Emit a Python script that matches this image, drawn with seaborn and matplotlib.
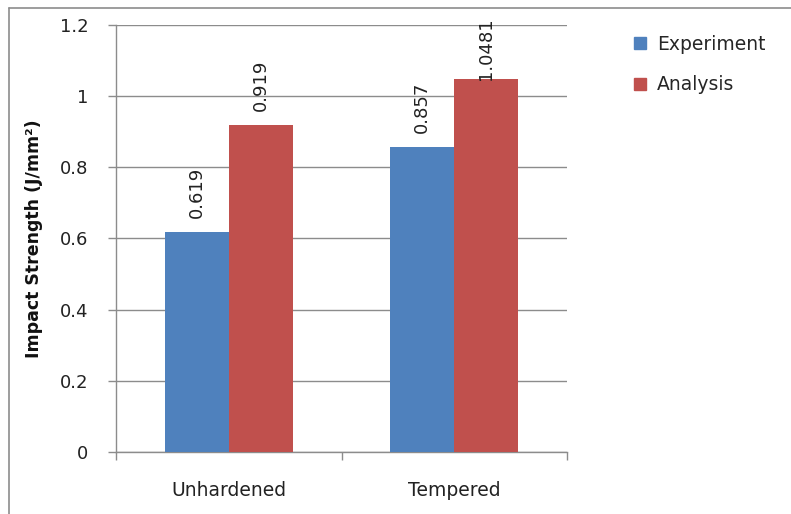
import matplotlib
matplotlib.use("Agg")
import matplotlib.pyplot as plt
import seaborn as sns
import pandas as pd
from matplotlib.lines import Line2D

categories = ["Unhardened", "Tempered"]
series = ["Experiment", "Analysis"]
experiment = [0.619, 0.857]
analysis = [0.919, 1.0481]
labels_exp = ["0.619", "0.857"]
labels_ana = ["0.919", "1.0481"]
colors = ["#4F81BD", "#C0504D"]

df = pd.DataFrame({
    "Category": categories * 2,
    "Series": [series[0]] * 2 + [series[1]] * 2,
    "Value": experiment + analysis,
    "Label": labels_exp + labels_ana,
})

sns.set_theme(style="white")
plt.rcParams["font.family"] = ["DejaVu Sans"]

fig = plt.figure(figsize=(7.91, 5.14), dpi=100)
ax = fig.add_axes([0.1467, 0.1206, 0.7168 - 0.1467, 0.9514 - 0.1206])

sns.barplot(data=df, x="Category", y="Value", hue="Series", hue_order=series,
            palette=colors, width=0.567, ax=ax, saturation=1, legend=True,
            edgecolor="none", linewidth=0, zorder=3)

ax.set_ylim(0, 1.2)
ax.set_xlim(-0.5, 1.5)
ax.set_yticks([0, 0.2, 0.4, 0.6, 0.8, 1.0, 1.2])
ax.set_yticklabels(["0", "0.2", "0.4", "0.6", "0.8", "1", "1.2"], fontsize=13, color="#222222")
ax.yaxis.grid(True, color="#8c8c8c", linewidth=1.0, zorder=0)
ax.set_axisbelow(True)
for s in ["top", "right"]:
    ax.spines[s].set_visible(False)
for s in ["left", "bottom"]:
    ax.spines[s].set_color("#8c8c8c")
    ax.spines[s].set_linewidth(1.0)

# category ticks at boundaries
ax.set_xticks([-0.5, 0.5, 1.5], minor=False)
ax.set_xticklabels(["", "", ""])
ax.set_xticks([0, 1], minor=True)
ax.set_xticklabels(categories, minor=True, fontsize=13.5, color="#222222")
ax.tick_params(axis="x", which="minor", length=0, pad=21, bottom=True)
ax.tick_params(axis="x", which="major", length=6, color="#8c8c8c", width=1,
               direction="out", bottom=True)
ax.tick_params(axis="y", length=6, color="#8c8c8c", width=1, direction="out", pad=14, left=True)
ax.set_xlabel("")
ax.set_ylabel("Impact Strength (J/mm²)", fontsize=12.5, fontweight="bold", color="#111111",
              labelpad=12)

# value labels
texts = []
for cont, labs in zip(ax.containers, [labels_exp, labels_ana]):
    for bar, lab in zip(cont, labs):
        t = ax.annotate(lab, (bar.get_x() + bar.get_width() / 2, bar.get_height()),
                        xytext=(0, 10), textcoords="offset points", rotation=90,
                        ha="center", va="bottom", fontsize=13, color="#222222", zorder=5)
        texts.append(t)

fig.canvas.draw()
renderer = fig.canvas.get_renderer()
limit = fig.bbox.height - 17
for t in texts:
    bb = t.get_window_extent(renderer)
    if bb.y1 > limit:
        shift = (bb.y1 - limit) * 72 / fig.dpi
        x0, y0 = t.xyann
        t.xyann = (x0, y0 - shift)

# legend
ax.legend_.remove()
handles = [Line2D([0], [0], marker="s", linestyle="none", markersize=8,
                  markerfacecolor=c, markeredgecolor=c) for c in colors]
fig.legend(handles, series, loc="upper left", bbox_to_anchor=(0.79, 0.947),
           frameon=False, fontsize=13.5, handlelength=0.8, handletextpad=0.5,
           labelspacing=1.15, borderaxespad=0)

# outer chart border
fig.add_artist(Line2D([9 / 791, 9 / 791], [0, 1 - 8 / 514], transform=fig.transFigure,
                      color="#8c8c8c", linewidth=1.2))
fig.add_artist(Line2D([9 / 791, 1], [1 - 8 / 514, 1 - 8 / 514], transform=fig.transFigure,
                      color="#8c8c8c", linewidth=1.2))

fig.savefig("out.png", dpi=100, facecolor="white")
